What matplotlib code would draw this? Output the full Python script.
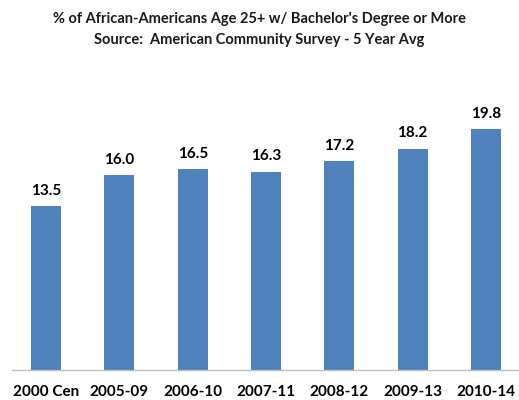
import matplotlib
matplotlib.use('Agg')
from matplotlib import pyplot as plt

categories = ['2000 Cen', '2005-09', '2006-10', '2007-11', '2008-12', '2009-13', '2010-14']
values = [13.5, 16.0, 16.5, 16.3, 17.2, 18.2, 19.8]

title_lines = ["% of African-Americans Age 25+ w/ Bachelor's Degree or More",
               "Source:  American Community Survey - 5 Year Avg"]

plt.rcParams['font.family'] = ['Lato', 'DejaVu Sans']

fig = plt.figure(figsize=(5.19, 4.0), dpi=100)
ax = fig.add_axes([12 / 519, 30 / 400, 507 / 519, 304 / 400])

x = range(len(categories))
ax.bar(x, values, width=0.41, color='#4F81BD')

for xi, v in zip(x, values):
    ax.annotate(f'{v:.1f}', (xi, v), xytext=(0, 6), textcoords='offset points',
                ha='center', va='bottom', fontsize=11, fontweight='bold', color='#000000')

ax.set_xlim(-0.464, 6.45)
ax.set_ylim(0, 25)
ax.set_xticks(list(x))
ax.set_xticklabels(categories, fontsize=11, fontweight='bold')
ax.tick_params(axis='x', length=0, pad=10.5)
ax.set_yticks([])
for side in ['top', 'right', 'left']:
    ax.spines[side].set_visible(False)
ax.spines['bottom'].set_color('#BFBFBF')
ax.spines['bottom'].set_linewidth(1)

fig.text(0.5, 1 - 19 / 400, title_lines[0], ha='center', va='center',
         fontsize=10.5, fontweight='bold', color='#1a1a1a')
fig.text(0.5, 1 - 40 / 400, title_lines[1], ha='center', va='center',
         fontsize=10.5, fontweight='bold', color='#1a1a1a')

fig.savefig('out.png', dpi=100)
